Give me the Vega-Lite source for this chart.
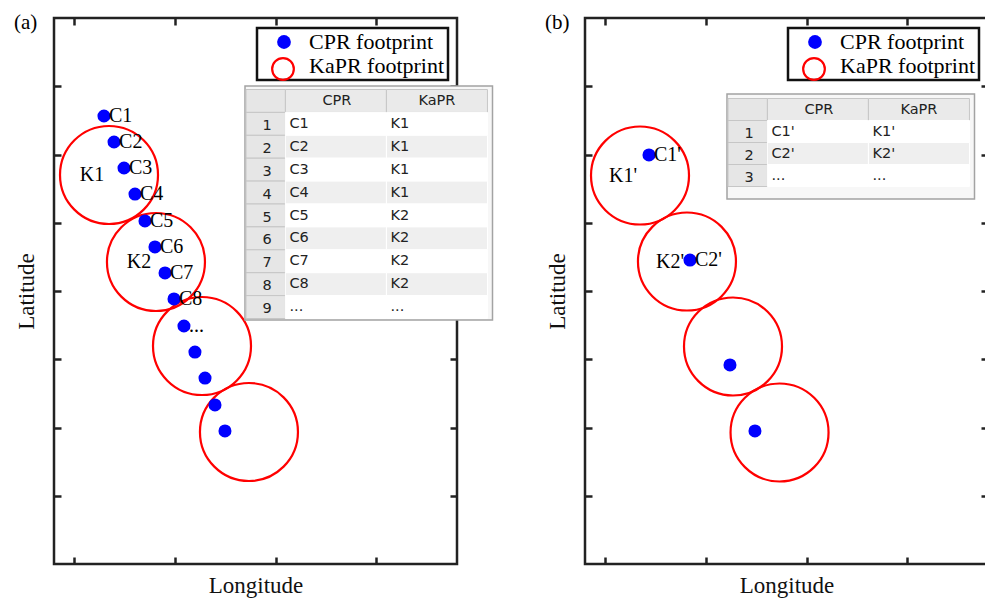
{
  "$schema": "https://vega.github.io/schema/vega-lite/v6.json",
  "padding": {"left": 12, "top": 10, "right": 0, "bottom": 0},
  "background": "white",
  "bounds": "flush",
  "spacing": 128,
  "config": {
    "view": {"stroke": "#222222", "strokeWidth": 2.5},
    "axis": {"labels": false, "domain": false, "grid": false, "tickSize": -7, "tickWidth": 2.5, "tickColor": "#222222", "titleFont": "Liberation Serif", "titleFontSize": 23, "titleFontWeight": "normal", "titleColor": "#111111"},
    "legend": {"strokeWidth": 2.5}
  },
  "datasets": {
    "cprA": [
      {"lon": 1.296, "lat": 6.564, "label": "C1", "type": "CPR footprint"},
      {"lon": 1.396, "lat": 6.183, "label": "C2", "type": "CPR footprint"},
      {"lon": 1.495, "lat": 5.802, "label": "C3", "type": "CPR footprint"},
      {"lon": 1.604, "lat": 5.421, "label": "C4", "type": "CPR footprint"},
      {"lon": 1.703, "lat": 5.026, "label": "C5", "type": "CPR footprint"},
      {"lon": 1.802, "lat": 4.645, "label": "C6", "type": "CPR footprint"},
      {"lon": 1.902, "lat": 4.264, "label": "C7", "type": "CPR footprint"},
      {"lon": 1.991, "lat": 3.883, "label": "C8", "type": "CPR footprint"},
      {"lon": 2.090, "lat": 3.487, "label": "...", "type": "CPR footprint"},
      {"lon": 2.199, "lat": 3.106, "label": "", "type": "CPR footprint"},
      {"lon": 2.299, "lat": 2.725, "label": "", "type": "CPR footprint"},
      {"lon": 2.398, "lat": 2.330, "label": "", "type": "CPR footprint"},
      {"lon": 2.497, "lat": 1.949, "label": "", "type": "CPR footprint"}
    ],
    "kaprA": [
      {"lon": 1.346, "lat": 5.700, "label": "K1", "type": "KaPR footprint"},
      {"lon": 1.812, "lat": 4.425, "label": "K2", "type": "KaPR footprint"},
      {"lon": 2.269, "lat": 3.194, "label": "", "type": "KaPR footprint"},
      {"lon": 2.735, "lat": 1.934, "label": "", "type": "KaPR footprint"}
    ],
    "cprB": [
      {"lon": 1.435, "lat": 5.993, "label": "C1'", "type": "CPR footprint"},
      {"lon": 1.842, "lat": 4.454, "label": "C2'", "type": "CPR footprint"},
      {"lon": 2.239, "lat": 2.916, "label": "", "type": "CPR footprint"},
      {"lon": 2.487, "lat": 1.949, "label": "", "type": "CPR footprint"}
    ],
    "kaprB": [
      {"lon": 1.346, "lat": 5.692, "label": "K1'", "type": "KaPR footprint"},
      {"lon": 1.812, "lat": 4.432, "label": "K2'", "type": "KaPR footprint"},
      {"lon": 2.269, "lat": 3.187, "label": "", "type": "KaPR footprint"},
      {"lon": 2.731, "lat": 1.927, "label": "", "type": "KaPR footprint"}
    ],
    "tableA": [
      {"r": 0, "num": "", "cpr": "CPR", "kapr": "KaPR"},
      {"r": 1, "num": "1", "cpr": "C1", "kapr": "K1"},
      {"r": 2, "num": "2", "cpr": "C2", "kapr": "K1"},
      {"r": 3, "num": "3", "cpr": "C3", "kapr": "K1"},
      {"r": 4, "num": "4", "cpr": "C4", "kapr": "K1"},
      {"r": 5, "num": "5", "cpr": "C5", "kapr": "K2"},
      {"r": 6, "num": "6", "cpr": "C6", "kapr": "K2"},
      {"r": 7, "num": "7", "cpr": "C7", "kapr": "K2"},
      {"r": 8, "num": "8", "cpr": "C8", "kapr": "K2"},
      {"r": 9, "num": "9", "cpr": "...", "kapr": "..."}
    ],
    "tableB": [
      {"r": 0, "num": "", "cpr": "CPR", "kapr": "KaPR"},
      {"r": 1, "num": "1", "cpr": "C1'", "kapr": "K1'"},
      {"r": 2, "num": "2", "cpr": "C2'", "kapr": "K2'"},
      {"r": 3, "num": "3", "cpr": "...", "kapr": "..."}
    ]
  },
  "hconcat": [
    {
      "width": 403, "height": 546,
      "title": {"text": "(a)", "anchor": "start", "frame": "group", "dx": -40, "dy": 33, "offset": 0, "baseline": "alphabetic", "font": "Liberation Serif", "fontSize": 21, "fontWeight": "normal", "color": "#000000"},
      "layer": [
        {
          "layer": [
            {
              "data": {"name": "kaprA"},
              "mark": {"type": "point", "shape": "circle", "filled": false, "size": 9604, "strokeWidth": 2.2, "opacity": 1},
              "encoding": {
                "x": {"field": "lon", "type": "quantitative", "scale": {"domain": [0.8, 4.8], "nice": false, "zero": false}, "axis": {"orient": "top", "values": [1, 2, 3, 4], "title": null}},
                "y": {"field": "lat", "type": "quantitative", "scale": {"domain": [0, 8], "nice": false, "zero": false}, "axis": {"orient": "right", "values": [1, 2, 3, 4, 5, 6, 7], "title": null}},
                "stroke": {"field": "type", "type": "nominal", "scale": {"domain": ["KaPR footprint"], "range": ["#ff0000"]},
                  "legend": {"title": null, "orient": "none", "legendX": 203, "legendY": 36, "padding": 3, "fillColor": "transparent", "strokeColor": "transparent", "labelExpr": "''", "labelFontSize": 22, "labelOffset": 0, "symbolSize": 470, "symbolOffset": 11, "symbolStrokeWidth": 2.2, "symbolFillColor": "transparent", "symbolType": "circle", "zindex": 3}}
              }
            },
            {
              "data": {"name": "cprA"},
              "mark": {"type": "circle", "size": 170, "opacity": 1, "strokeWidth": 0},
              "encoding": {
                "x": {"field": "lon", "type": "quantitative", "axis": {"orient": "bottom", "values": [1, 2, 3, 4], "title": "Longitude", "titlePadding": 9}},
                "y": {"field": "lat", "type": "quantitative", "axis": {"orient": "left", "values": [1, 2, 3, 4, 5, 6, 7], "title": "Latitude", "titlePadding": 14}},
                "fill": {"field": "type", "type": "nominal", "scale": {"domain": ["CPR footprint", "KaPR footprint"], "range": ["#0000ff", "transparent"]},
                  "legend": {"title": null, "orient": "none", "legendX": 203, "legendY": 10, "padding": 3, "fillColor": "#ffffff", "strokeColor": "#111111", "labelFont": "Liberation Serif", "labelFontSize": 22, "labelColor": "#000000", "labelOffset": 14, "symbolSize": 190, "symbolOffset": 13, "symbolStrokeWidth": 0, "symbolType": "circle", "rowPadding": 2, "zindex": 2}}
              }
            },
            {
              "data": {"name": "cprA"},
              "mark": {"type": "text", "align": "left", "baseline": "middle", "dx": 5, "font": "Liberation Serif", "fontSize": 20, "color": "#000000"},
              "encoding": {
                "x": {"field": "lon", "type": "quantitative", "axis": null},
                "y": {"field": "lat", "type": "quantitative", "axis": null},
                "text": {"field": "label"}
              }
            },
            {
              "data": {"name": "kaprA"},
              "mark": {"type": "text", "align": "center", "baseline": "middle", "dx": -17, "font": "Liberation Serif", "fontSize": 20, "color": "#000000"},
              "encoding": {
                "x": {"field": "lon", "type": "quantitative", "axis": null},
                "y": {"field": "lat", "type": "quantitative", "axis": null},
                "text": {"field": "label"}
              }
            }
          ],
          "resolve": {"axis": {"x": "independent", "y": "independent"}}
        },
        {
          "data": {"name": "tableA"},
          "layer": [
            {
              "data": {"values": [{}]},
              "mark": {"type": "rect", "fill": "#f7f7f7", "stroke": "#a3a3a3", "strokeWidth": 1.5},
              "encoding": {
                "x": {"datum": 0, "type": "quantitative", "scale": {"domain": [0, 2.45], "range": [191, 438.5], "nice": false, "zero": false}, "axis": null},
                "x2": {"datum": 2.45},
                "y": {"datum": -0.13, "type": "quantitative", "scale": {"domain": [0, 10], "range": [71, 300], "nice": false, "zero": false}, "axis": null},
                "y2": {"datum": 10.09}
              }
            },
            {
              "mark": {"type": "rect", "fill": "#e6e6e6", "stroke": "#c6c6c6", "strokeWidth": 1},
              "encoding": {
                "x": {"datum": 0.01, "type": "quantitative", "axis": null},
                "x2": {"datum": 0.4},
                "y": {"field": "r", "type": "quantitative", "bin": {"binned": true, "step": 1}, "axis": null}
              }
            },
            {
              "mark": {"type": "rect", "strokeWidth": 1},
              "encoding": {
                "x": {"datum": 0.4, "type": "quantitative", "axis": null},
                "x2": {"datum": 1.4},
                "y": {"field": "r", "type": "quantitative", "bin": {"binned": true, "step": 1}, "axis": null},
                "fill": {"condition": [{"test": "datum.r === 0", "value": "#eaeaea"}, {"test": "datum.r % 2 === 0", "value": "#efefef"}], "value": "#ffffff"},
                "stroke": {"condition": {"test": "datum.r === 0", "value": "#c6c6c6"}, "value": "#ffffff"}
              }
            },
            {
              "mark": {"type": "rect", "strokeWidth": 1},
              "encoding": {
                "x": {"datum": 1.4, "type": "quantitative", "axis": null},
                "x2": {"datum": 2.4},
                "y": {"field": "r", "type": "quantitative", "bin": {"binned": true, "step": 1}, "axis": null},
                "fill": {"condition": [{"test": "datum.r === 0", "value": "#eaeaea"}, {"test": "datum.r % 2 === 0", "value": "#efefef"}], "value": "#ffffff"},
                "stroke": {"condition": {"test": "datum.r === 0", "value": "#c6c6c6"}, "value": "#ffffff"}
              }
            },
            {
              "mark": {"type": "text", "align": "center", "baseline": "middle", "dy": 14, "font": "DejaVu Sans", "fontSize": 14.5, "color": "#222222"},
              "encoding": {
                "x": {"datum": 0.22, "type": "quantitative", "axis": null},
                "y": {"field": "r", "type": "quantitative", "axis": null},
                "text": {"field": "num"}
              }
            },
            {
              "transform": [{"filter": "datum.r === 0"}],
              "mark": {"type": "text", "align": "center", "baseline": "middle", "dy": 12, "font": "DejaVu Sans", "fontSize": 14.5, "color": "#222222"},
              "encoding": {
                "x": {"datum": 0.91, "type": "quantitative", "axis": null},
                "y": {"field": "r", "type": "quantitative", "axis": null},
                "text": {"field": "cpr"}
              }
            },
            {
              "transform": [{"filter": "datum.r === 0"}],
              "mark": {"type": "text", "align": "center", "baseline": "middle", "dy": 12, "font": "DejaVu Sans", "fontSize": 14.5, "color": "#222222"},
              "encoding": {
                "x": {"datum": 1.9, "type": "quantitative", "axis": null},
                "y": {"field": "r", "type": "quantitative", "axis": null},
                "text": {"field": "kapr"}
              }
            },
            {
              "transform": [{"filter": "datum.r > 0"}],
              "mark": {"type": "text", "align": "left", "baseline": "middle", "dy": 12, "font": "DejaVu Sans", "fontSize": 14.5, "color": "#222222"},
              "encoding": {
                "x": {"datum": 0.44, "type": "quantitative", "axis": null},
                "y": {"field": "r", "type": "quantitative", "axis": null},
                "text": {"field": "cpr"}
              }
            },
            {
              "transform": [{"filter": "datum.r > 0"}],
              "mark": {"type": "text", "align": "left", "baseline": "middle", "dy": 12, "font": "DejaVu Sans", "fontSize": 14.5, "color": "#222222"},
              "encoding": {
                "x": {"datum": 1.44, "type": "quantitative", "axis": null},
                "y": {"field": "r", "type": "quantitative", "axis": null},
                "text": {"field": "kapr"}
              }
            }
          ]
        }
      ],
      "resolve": {"scale": {"x": "independent", "y": "independent"}}
    },
    {
      "width": 403, "height": 546,
      "title": {"text": "(b)", "anchor": "start", "frame": "group", "dx": -40, "dy": 33, "offset": 0, "baseline": "alphabetic", "font": "Liberation Serif", "fontSize": 21, "fontWeight": "normal", "color": "#000000"},
      "layer": [
        {
          "layer": [
            {
              "data": {"name": "kaprB"},
              "mark": {"type": "point", "shape": "circle", "filled": false, "size": 9604, "strokeWidth": 2.2, "opacity": 1},
              "encoding": {
                "x": {"field": "lon", "type": "quantitative", "scale": {"domain": [0.8, 4.8], "nice": false, "zero": false}, "axis": {"orient": "top", "values": [1, 2, 3, 4], "title": null}},
                "y": {"field": "lat", "type": "quantitative", "scale": {"domain": [0, 8], "nice": false, "zero": false}, "axis": {"orient": "right", "values": [1, 2, 3, 4, 5, 6, 7], "title": null}},
                "stroke": {"field": "type", "type": "nominal", "scale": {"domain": ["KaPR footprint"], "range": ["#ff0000"]},
                  "legend": {"title": null, "orient": "none", "legendX": 203, "legendY": 36, "padding": 3, "fillColor": "transparent", "strokeColor": "transparent", "labelExpr": "''", "labelFontSize": 22, "labelOffset": 0, "symbolSize": 470, "symbolOffset": 11, "symbolStrokeWidth": 2.2, "symbolFillColor": "transparent", "symbolType": "circle", "zindex": 3}}
              }
            },
            {
              "data": {"name": "cprB"},
              "mark": {"type": "circle", "size": 170, "opacity": 1, "strokeWidth": 0},
              "encoding": {
                "x": {"field": "lon", "type": "quantitative", "axis": {"orient": "bottom", "values": [1, 2, 3, 4], "title": "Longitude", "titlePadding": 9}},
                "y": {"field": "lat", "type": "quantitative", "axis": {"orient": "left", "values": [1, 2, 3, 4, 5, 6, 7], "title": "Latitude", "titlePadding": 14}},
                "fill": {"field": "type", "type": "nominal", "scale": {"domain": ["CPR footprint", "KaPR footprint"], "range": ["#0000ff", "transparent"]},
                  "legend": {"title": null, "orient": "none", "legendX": 203, "legendY": 10, "padding": 3, "fillColor": "#ffffff", "strokeColor": "#111111", "labelFont": "Liberation Serif", "labelFontSize": 22, "labelColor": "#000000", "labelOffset": 14, "symbolSize": 190, "symbolOffset": 13, "symbolStrokeWidth": 0, "symbolType": "circle", "rowPadding": 2, "zindex": 2}}
              }
            },
            {
              "data": {"name": "cprB"},
              "mark": {"type": "text", "align": "left", "baseline": "middle", "dx": 5, "font": "Liberation Serif", "fontSize": 20, "color": "#000000"},
              "encoding": {
                "x": {"field": "lon", "type": "quantitative", "axis": null},
                "y": {"field": "lat", "type": "quantitative", "axis": null},
                "text": {"field": "label"}
              }
            },
            {
              "data": {"name": "kaprB"},
              "mark": {"type": "text", "align": "center", "baseline": "middle", "dx": -17, "font": "Liberation Serif", "fontSize": 20, "color": "#000000"},
              "encoding": {
                "x": {"field": "lon", "type": "quantitative", "axis": null},
                "y": {"field": "lat", "type": "quantitative", "axis": null},
                "text": {"field": "label"}
              }
            }
          ],
          "resolve": {"axis": {"x": "independent", "y": "independent"}}
        },
        {
          "data": {"name": "tableB"},
          "layer": [
            {
              "data": {"values": [{}]},
              "mark": {"type": "rect", "fill": "#f7f7f7", "stroke": "#a3a3a3", "strokeWidth": 1.5},
              "encoding": {
                "x": {"datum": 0, "type": "quantitative", "scale": {"domain": [0, 2.45], "range": [142, 389.5], "nice": false, "zero": false}, "axis": null},
                "x2": {"datum": 2.45},
                "y": {"datum": -0.18, "type": "quantitative", "scale": {"domain": [0, 4], "range": [80, 168], "nice": false, "zero": false}, "axis": null},
                "y2": {"datum": 4.59}
              }
            },
            {
              "mark": {"type": "rect", "fill": "#e6e6e6", "stroke": "#c6c6c6", "strokeWidth": 1},
              "encoding": {
                "x": {"datum": 0.01, "type": "quantitative", "axis": null},
                "x2": {"datum": 0.4},
                "y": {"field": "r", "type": "quantitative", "bin": {"binned": true, "step": 1}, "axis": null}
              }
            },
            {
              "mark": {"type": "rect", "strokeWidth": 1},
              "encoding": {
                "x": {"datum": 0.4, "type": "quantitative", "axis": null},
                "x2": {"datum": 1.4},
                "y": {"field": "r", "type": "quantitative", "bin": {"binned": true, "step": 1}, "axis": null},
                "fill": {"condition": [{"test": "datum.r === 0", "value": "#eaeaea"}, {"test": "datum.r % 2 === 0", "value": "#efefef"}], "value": "#ffffff"},
                "stroke": {"condition": {"test": "datum.r === 0", "value": "#c6c6c6"}, "value": "#ffffff"}
              }
            },
            {
              "mark": {"type": "rect", "strokeWidth": 1},
              "encoding": {
                "x": {"datum": 1.4, "type": "quantitative", "axis": null},
                "x2": {"datum": 2.4},
                "y": {"field": "r", "type": "quantitative", "bin": {"binned": true, "step": 1}, "axis": null},
                "fill": {"condition": [{"test": "datum.r === 0", "value": "#eaeaea"}, {"test": "datum.r % 2 === 0", "value": "#efefef"}], "value": "#ffffff"},
                "stroke": {"condition": {"test": "datum.r === 0", "value": "#c6c6c6"}, "value": "#ffffff"}
              }
            },
            {
              "mark": {"type": "text", "align": "center", "baseline": "middle", "dy": 14, "font": "DejaVu Sans", "fontSize": 14.5, "color": "#222222"},
              "encoding": {
                "x": {"datum": 0.22, "type": "quantitative", "axis": null},
                "y": {"field": "r", "type": "quantitative", "axis": null},
                "text": {"field": "num"}
              }
            },
            {
              "transform": [{"filter": "datum.r === 0"}],
              "mark": {"type": "text", "align": "center", "baseline": "middle", "dy": 12, "font": "DejaVu Sans", "fontSize": 14.5, "color": "#222222"},
              "encoding": {
                "x": {"datum": 0.91, "type": "quantitative", "axis": null},
                "y": {"field": "r", "type": "quantitative", "axis": null},
                "text": {"field": "cpr"}
              }
            },
            {
              "transform": [{"filter": "datum.r === 0"}],
              "mark": {"type": "text", "align": "center", "baseline": "middle", "dy": 12, "font": "DejaVu Sans", "fontSize": 14.5, "color": "#222222"},
              "encoding": {
                "x": {"datum": 1.9, "type": "quantitative", "axis": null},
                "y": {"field": "r", "type": "quantitative", "axis": null},
                "text": {"field": "kapr"}
              }
            },
            {
              "transform": [{"filter": "datum.r > 0"}],
              "mark": {"type": "text", "align": "left", "baseline": "middle", "dy": 12, "font": "DejaVu Sans", "fontSize": 14.5, "color": "#222222"},
              "encoding": {
                "x": {"datum": 0.44, "type": "quantitative", "axis": null},
                "y": {"field": "r", "type": "quantitative", "axis": null},
                "text": {"field": "cpr"}
              }
            },
            {
              "transform": [{"filter": "datum.r > 0"}],
              "mark": {"type": "text", "align": "left", "baseline": "middle", "dy": 12, "font": "DejaVu Sans", "fontSize": 14.5, "color": "#222222"},
              "encoding": {
                "x": {"datum": 1.44, "type": "quantitative", "axis": null},
                "y": {"field": "r", "type": "quantitative", "axis": null},
                "text": {"field": "kapr"}
              }
            }
          ]
        }
      ],
      "resolve": {"scale": {"x": "independent", "y": "independent"}}
    }
  ],
  "resolve": {"scale": {"fill": "independent", "stroke": "independent"}, "legend": {"fill": "independent", "stroke": "independent"}}
}
